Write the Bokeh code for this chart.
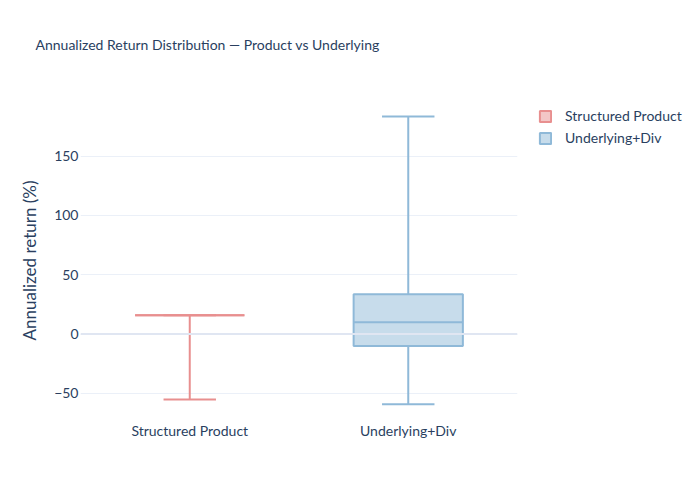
from bokeh.plotting import figure
from bokeh.models import (Range1d, FixedTicker, Legend, LegendItem, Title, Span,
                          ColumnDataSource)
from bokeh.embed import file_html
from bokeh.resources import INLINE

# ---- data ----
categories = ["Structured Product", "Underlying+Div"]
lower = [-55.2, -59.2]
q1 = [15.9, -10.0]
median = [15.9, 10.0]
q3 = [15.9, 33.6]
upper = [15.9, 183.5]
line_colors = ["#e88f8f", "#8fb9d8"]
y_ticks = [-50, 0, 50, 100, 150]
y_tick_labels = ["\u221250", "0", "50", "100", "150"]

FONT = "Lato"
TXT = "#2a3f5f"

p = figure(frame_width=437, frame_height=320,
           x_range=Range1d(-0.5, 1.5), y_range=Range1d(-72.9, 196.9),
           output_backend="svg", toolbar_location=None, title=None,
           min_border_left=80, min_border_right=167, min_border_top=100,
           min_border_bottom=64)
p.outline_line_color = None
p.background_fill_color = "white"
p.border_fill_color = "white"

# titles: spacer first (closest to frame), then real title
p.add_layout(Title(text=" ", text_font_size="28px"), "above")
p.add_layout(Title(text="Annualized Return Distribution \u2014 Product vs Underlying",
                   text_font=FONT, text_font_size="14px", text_font_style="normal",
                   text_color=TXT, align="left", offset=-45), "above")

# axes
p.xaxis.ticker = FixedTicker(ticks=list(range(len(categories))))
p.xaxis.major_label_overrides = {i: c for i, c in enumerate(categories)}
p.yaxis.ticker = FixedTicker(ticks=y_ticks)
p.yaxis.major_label_overrides = dict(zip(y_ticks, y_tick_labels))
for ax in (p.xaxis[0], p.yaxis[0]):
    ax.axis_line_color = None
    ax.major_tick_line_color = None
    ax.minor_tick_line_color = None
    ax.major_tick_out = 0
    ax.major_tick_in = 0
    ax.minor_tick_out = 0
    ax.minor_tick_in = 0
    ax.major_label_text_font = FONT
    ax.major_label_text_font_size = "14px"
    ax.major_label_text_color = TXT
p.xaxis.major_label_standoff = 1
p.yaxis.major_label_standoff = 2
p.yaxis.axis_label = "Annualized return (%)"
p.yaxis.axis_label_text_font = FONT
p.yaxis.axis_label_text_font_size = "17px"
p.yaxis.axis_label_text_font_style = "normal"
p.yaxis.axis_label_text_color = TXT
p.yaxis.axis_label_standoff = 11

p.xgrid.grid_line_color = None
p.ygrid.grid_line_color = "#ebf0f8"
p.ygrid.grid_line_width = 1
p.add_layout(Span(location=0, dimension="width", line_color="#e0e6f2", line_width=2))

renderers = []
for i, cat in enumerate(categories):
    c = line_colors[i]
    src = ColumnDataSource(dict(x=[i], q1=[q1[i]], q3=[q3[i]]))
    r = p.vbar(x="x", top="q3", bottom="q1", width=0.5, source=src,
               fill_color=c, fill_alpha=0.5, line_color=c, line_width=2)
    renderers.append(r)
    # median
    p.segment(x0=[i - 0.25], x1=[i + 0.25], y0=[median[i]], y1=[median[i]],
              line_color=c, line_width=2)
    # whiskers
    p.segment(x0=[i, i], x1=[i, i], y0=[q3[i], q1[i]], y1=[upper[i], lower[i]],
              line_color=c, line_width=2)
    # caps
    p.segment(x0=[i - 0.12, i - 0.12], x1=[i + 0.12, i + 0.12],
              y0=[upper[i], lower[i]], y1=[upper[i], lower[i]],
              line_color=c, line_width=2)

legend = Legend(items=[LegendItem(label=categories[i], renderers=[renderers[i]])
                       for i in range(len(categories))],
                location=(21, 274), margin=0, padding=0, spacing=5,
                glyph_width=14, glyph_height=14, label_height=14,
                label_standoff=13, border_line_color=None,
                background_fill_alpha=0,
                label_text_font=FONT, label_text_font_size="14px",
                label_text_color=TXT)
p.add_layout(legend, "right")

open("out.html", "w").write(file_html(p, INLINE))
